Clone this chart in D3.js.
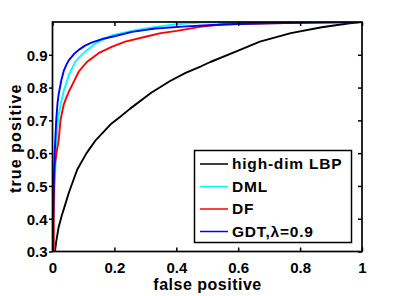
<!DOCTYPE html>
<html><head><meta charset="utf-8">
<script src="https://cdn.jsdelivr.net/npm/d3@7/dist/d3.min.js"></script>
<style>
html,body{margin:0;padding:0;background:#fff;}
svg text{font-family:"Liberation Sans",Arial,Helvetica,sans-serif;font-weight:bold;fill:#000;}
</style></head>
<body><svg id="c" width="400" height="296"></svg>
<script>
// ---- data ----
const seriesNames = ["high-dim LBP", "DML", "DF", "GDT,\u03bb=0.9"];
const seriesColors = ["#000000", "#00ffff", "#ff0000", "#0000ff"];

const lbpFpr = [0.008, 0.012, 0.02, 0.03, 0.04, 0.053, 0.08, 0.11, 0.14, 0.19, 0.22, 0.25, 0.32, 0.38, 0.43, 0.48, 0.51, 0.6, 0.67, 0.77, 0.87, 0.96, 1];
const lbpTpr = [0.3, 0.33, 0.375, 0.41, 0.44, 0.48, 0.55, 0.6, 0.64, 0.69, 0.712, 0.735, 0.785, 0.82, 0.845, 0.865, 0.878, 0.913, 0.94, 0.966, 0.984, 0.996, 1];

const dmlFpr = [0.003, 0.004, 0.007, 0.011, 0.016, 0.02, 0.028, 0.036, 0.045, 0.053, 0.074, 0.09, 0.106, 0.139, 0.193, 0.268, 0.332, 0.4, 0.48, 1];
const dmlTpr = [0.3, 0.4, 0.5, 0.6, 0.68, 0.717, 0.755, 0.788, 0.815, 0.839, 0.879, 0.896, 0.909, 0.935, 0.96, 0.975, 0.985, 0.993, 0.998, 1];

const dfFpr = [0.004, 0.004, 0.005, 0.007, 0.013, 0.02, 0.026, 0.036, 0.045, 0.053, 0.069, 0.085, 0.112, 0.149, 0.193, 0.235, 0.3, 0.35, 0.402, 0.477, 0.55, 0.7, 0.85, 1];
const dfTpr = [0.3, 0.4, 0.5, 0.56, 0.6, 0.64, 0.702, 0.747, 0.77, 0.788, 0.818, 0.849, 0.879, 0.905, 0.925, 0.94, 0.955, 0.966, 0.973, 0.985, 0.993, 0.996, 0.998, 1];

const gdtFpr = [0.001, 0.002, 0.004, 0.007, 0.012, 0.016, 0.02, 0.028, 0.036, 0.045, 0.053, 0.07, 0.085, 0.105, 0.128, 0.16, 0.193, 0.257, 0.332, 0.42, 0.5, 0.6, 0.7, 0.85, 1];
const gdtTpr = [0.3, 0.4, 0.5, 0.6, 0.7, 0.75, 0.78, 0.82, 0.85, 0.87, 0.884, 0.903, 0.915, 0.928, 0.938, 0.948, 0.955, 0.97, 0.98, 0.986, 0.99, 0.994, 0.996, 0.998, 1];

const xTicks = [0, 0.2, 0.4, 0.6, 0.8, 1];
const xTickLabels = ["0", "0.2", "0.4", "0.6", "0.8", "1"];
const yTicks = [0.3, 0.4, 0.5, 0.6, 0.7, 0.8, 0.9];
const yTickLabels = ["0.3", "0.4", "0.5", "0.6", "0.7", "0.8", "0.9"];
const xLabel = "false positive";
const yLabel = "true positive";

// ---- layout ----
const L = 52.5, R = 362, T = 22, B = 251.5;
const svg = d3.select("#c");
const x = d3.scaleLinear().domain([0, 1]).range([L, R]);
const y = d3.scaleLinear().domain([0.3, 1]).range([B, T]);

svg.append("defs").append("clipPath").attr("id", "clip")
  .append("rect").attr("x", L).attr("y", T).attr("width", R - L).attr("height", B - T);

const series = [
  {fpr: lbpFpr, tpr: lbpTpr},
  {fpr: dmlFpr, tpr: dmlTpr},
  {fpr: dfFpr, tpr: dfTpr},
  {fpr: gdtFpr, tpr: gdtTpr}
];
const line = d3.line().x(d => x(d[0])).y(d => y(d[1]));
const g = svg.append("g").attr("clip-path", "url(#clip)");
series.forEach((s, i) => {
  g.append("path")
    .attr("d", line(s.fpr.map((f, k) => [f, s.tpr[k]])))
    .attr("fill", "none").attr("stroke", seriesColors[i])
    .attr("stroke-width", 1.9).attr("stroke-linejoin", "round");
});

// ---- axes ----
const fs = 15;
const axBottom = svg.append("g").attr("transform", `translate(0,${B})`)
  .call(d3.axisBottom(x).tickValues(xTicks).tickFormat((d, i) => xTickLabels[i]).tickSizeInner(-4).tickSizeOuter(0).tickPadding(11));
const axTop = svg.append("g").attr("transform", `translate(0,${T})`)
  .call(d3.axisTop(x).tickValues(xTicks).tickFormat("").tickSizeInner(-4).tickSizeOuter(0));
const axLeft = svg.append("g").attr("transform", `translate(${L},0)`)
  .call(d3.axisLeft(y).tickValues(yTicks).tickFormat((d, i) => yTickLabels[i]).tickSizeInner(3.5).tickSizeOuter(0).tickPadding(1.5));
const axRight = svg.append("g").attr("transform", `translate(${R},0)`)
  .call(d3.axisRight(y).tickValues(yTicks).tickFormat("").tickSizeInner(-4).tickSizeOuter(0));
[axBottom, axTop, axLeft, axRight].forEach(a => {
  a.select(".domain").remove();
  a.selectAll(".tick line").attr("stroke", "#000").attr("stroke-width", 1.5);
  a.selectAll("text").attr("font-size", fs).attr("fill", "#000").attr("font-family", null);
});
axLeft.selectAll("text").attr("dy", "0.36em");
// box
svg.append("rect").attr("x", L).attr("y", T).attr("width", R - L).attr("height", B - T)
  .attr("fill", "none").attr("stroke", "#000").attr("stroke-width", 1.7);

// axis labels
svg.append("text").attr("x", (L + R) / 2 + 0.3).attr("y", 290).attr("text-anchor", "middle")
  .attr("font-size", 16).attr("letter-spacing", 0.5).text(xLabel);
svg.append("text").attr("transform", `translate(20.5,${(T + B) / 2 + 1.5}) rotate(-90)`).attr("text-anchor", "middle")
  .attr("font-size", 16).attr("letter-spacing", 1.1).text(yLabel);

// ---- legend ----
const lg = svg.append("g");
lg.append("rect").attr("x", 194.5).attr("y", 150.5).attr("width", 157).attr("height", 92)
  .attr("fill", "#fff").attr("stroke", "#000").attr("stroke-width", 1.5);
seriesNames.forEach((n, i) => {
  const yy = 164 + i * 22.5;
  lg.append("line").attr("x1", 200).attr("x2", 228).attr("y1", yy).attr("y2", yy)
    .attr("stroke", seriesColors[i]).attr("stroke-width", 1.5);
  lg.append("text").attr("x", 232).attr("y", yy + 5).attr("font-size", 15.5)
    .attr("letter-spacing", 0.8).text(n);
});
</script></body></html>
